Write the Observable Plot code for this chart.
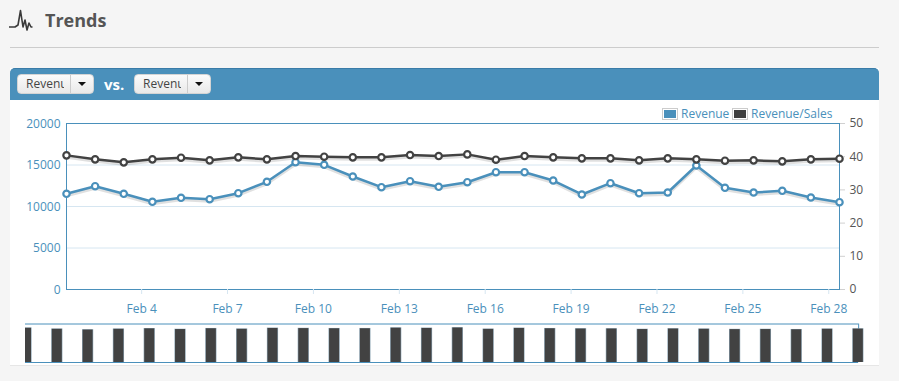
<!DOCTYPE html>
<html><head><meta charset="utf-8">
<script src="https://cdn.jsdelivr.net/npm/d3@7"></script>
<script src="https://cdn.jsdelivr.net/npm/@observablehq/plot@0.6"></script>
<style>
html,body{margin:0;padding:0;background:#f5f5f5;width:899px;height:381px;overflow:hidden;font-family:"Open Sans",sans-serif}
.abs{position:absolute}
.btn{position:absolute;top:74px;width:77px;height:20px;box-sizing:border-box;background:linear-gradient(#fbfbfb,#e9e9e9);border:1px solid #d4d4d4;border-radius:4px;font-size:12px;color:#444;line-height:18px}
.btn span{position:absolute;left:8px;top:0;width:38px;overflow:hidden;white-space:nowrap}
.btn i{position:absolute;left:52px;top:0;bottom:0;border-left:1px solid #ccc}
.btn b{position:absolute;left:60px;top:7px;border:4px solid transparent;border-top:4px solid #111;border-bottom:0}
.lg{position:absolute;top:108px;width:16px;height:12px;box-sizing:border-box;border:1px solid #ccc;padding:1px;background-clip:content-box}
.lt{position:absolute;top:106px;font-size:12px;color:#4a90bb;line-height:16px;white-space:nowrap}
svg{background:transparent!important}
</style></head><body>
<svg class="abs" style="left:9px;top:9px;overflow:visible" width="24" height="22"><path d="M0 18H6L9 16L11.5 1.5L14 18L16 11L18 21L20 14L22 18H23.5" fill="none" stroke="#3a3a3a" stroke-width="1.6" stroke-linejoin="round"/></svg>
<div class="abs" style="left:45px;top:8px;font-size:18px;font-weight:700;color:#555;line-height:24px">Trends</div>
<div class="abs" style="left:10px;top:47px;width:869px;height:1px;background:#ccc"></div>
<div class="abs" style="left:10px;top:68px;width:869px;height:297px;background:#fff;border-bottom:1px solid #e6e6e6"></div>
<div class="abs" style="left:10px;top:68px;width:869px;height:32px;box-sizing:border-box;background:#4a90bb;border-top:1px solid #3a7ca8;border-radius:5px 5px 0 0"></div>
<div class="btn" style="left:17px"><span>Revenue</span><i></i><b></b></div>
<div class="abs" style="left:104px;top:75px;font-size:15px;font-weight:700;color:#fff;line-height:18px">vs.</div>
<div class="btn" style="left:134px"><span>Revenue</span><i></i><b></b></div>
<div class="lg" style="left:662px;background-color:#4a90bb"></div><div class="lt" style="left:681px">Revenue</div>
<div class="lg" style="left:732px;background-color:#3f3f3f"></div><div class="lt" style="left:751px">Revenue/Sales</div>
<div id="main" class="abs" style="left:0;top:100px"></div>
<div id="mini" class="abs" style="left:0;top:320px"></div>
<script>
const days = d3.range(1, 29);
const revenue = [11530,12445,11530,10566,11048,10880,11602,12976,15337,15024,13614,12325,13048,12373,12928,14132,14132,13132,11446,12807,11602,11687,14940,12253,11687,11891,11084,10518];
const revenuePerSale = [40.4,39.2,38.3,39.2,39.7,38.9,39.8,39.2,40.2,40.0,39.8,39.8,40.5,40.2,40.7,39.1,40.2,39.8,39.5,39.5,38.9,39.5,39.2,38.8,38.9,38.6,39.2,39.4];
const leftTicks = [5000,10000,15000,20000,0];
const rightTicks = [0,10,20,30,40,50];
const tickDays = [4,7,10,13,16,19,22,25,28];

const BLUE = "#4a90bb", DARK = "#424242", GRID = "#d6e6f1";
const FONT = "'Open Sans',sans-serif";
const when = d => new Date(Date.UTC(2013, 1, d, 9));
const rows = days.map((d, i) => ({date: when(d), day: d, rev: revenue[i], ratio: revenuePerSale[i]}));
const ratioToLeft = v => v * 400;

function series(yf, color) {
  return [
    Plot.line(rows, {x: "date", y: yf, stroke: "#000", strokeOpacity: 0.12, strokeWidth: 3, dy: 2}),
    Plot.line(rows, {x: "date", y: yf, stroke: color, strokeWidth: 2.5}),
    Plot.dot(rows, {x: "date", y: yf, r: 3.2, fill: "#fff", stroke: color, strokeWidth: 2.2})
  ];
}

document.getElementById("main").append(Plot.plot({
  width: 899, height: 230, marginLeft: 66, marginRight: 60, marginTop: 23, marginBottom: 41,
  style: {fontFamily: FONT, fontSize: "12px", background: "transparent", overflow: "visible"},
  x: {type: "utc", domain: [when(1), when(28)]},
  y: {domain: [0, 20000]},
  marks: [
    Plot.ruleY([5000, 10000, 15000], {stroke: GRID}),
    Plot.frame({stroke: BLUE}),
    Plot.axisX(tickDays.map(d => new Date(Date.UTC(2013, 1, d))), {
      tickSize: 5, tickPadding: 10, stroke: GRID, color: BLUE, label: null, tickFormat: d3.utcFormat("Feb %-d")
    }),
    Plot.axisY(leftTicks, {anchor: "left", tickSize: 0, tickPadding: 6, dy: 0.5, color: BLUE, label: null, tickFormat: d => String(d)}),
    Plot.axisY(rightTicks, {anchor: "right", y: ratioToLeft, tickSize: 5, tickPadding: 5, stroke: "#d0d0d0", color: "#555", label: null, tickFormat: d => String(d)}),
    ...series("rev", BLUE),
    ...series(d => ratioToLeft(d.ratio), DARK)
  ]
}));

const half = 0.162;
const xLeft = 1 - 1 / 30.8, xRight = 28.2;
document.getElementById("mini").append(Plot.plot({
  width: 899, height: 45, marginLeft: 25, marginRight: 899 - 864, marginTop: 3.5, marginBottom: 3,
  style: {background: "transparent", overflow: "visible"},
  x: {type: "linear", domain: [xLeft, xRight], axis: null},
  y: {domain: [0, 45], axis: null},
  marks: [
    Plot.ruleY([45], {x1: xLeft, x2: 28.01, stroke: BLUE}),
    Plot.ruleX([28.01], {y1: 0, y2: 45, stroke: BLUE}),
    Plot.rectY(rows, {x1: d => d.day - half - 0.02, x2: d => d.day + half + 0.02, y1: 0, y2: "ratio", fill: "#8fa6b5", clip: true}),
    Plot.rectY(rows, {x1: d => d.day - half, x2: d => d.day + half, y1: 0, y2: d => d.ratio - 0.4, fill: DARK, clip: true}),
    Plot.ruleY([0], {x1: xLeft, x2: 28.01, stroke: BLUE})
  ]
}));
</script>
</body></html>
